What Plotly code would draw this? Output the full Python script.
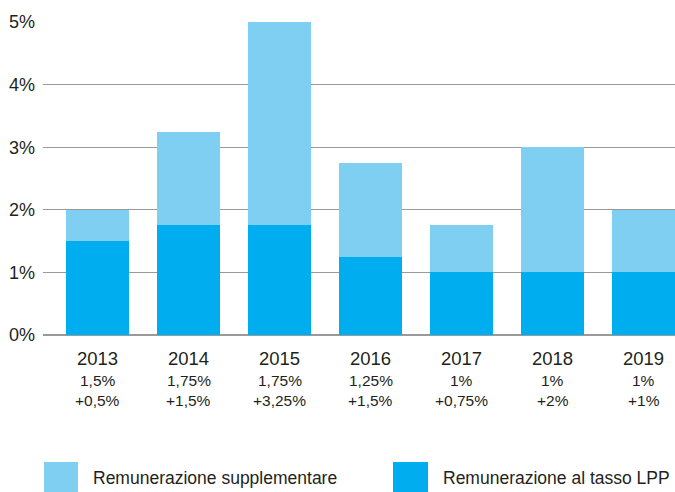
import plotly.graph_objects as go

years = ["2013", "2014", "2015", "2016", "2017", "2018", "2019"]
base_rate = [1.5, 1.75, 1.75, 1.25, 1.0, 1.0, 1.0]
extra_rate = [0.5, 1.5, 3.25, 1.5, 0.75, 2.0, 1.0]
base_labels = ["1,5%", "1,75%", "1,75%", "1,25%", "1%", "1%", "1%"]
extra_labels = ["+0,5%", "+1,5%", "+3,25%", "+1,5%", "+0,75%", "+2%", "+1%"]
y_ticks = [0, 1, 2, 3, 4, 5]
y_ticktext = ["0%", "1%", "2%", "3%", "4%", "5%"]
legend_names = ["Remunerazione supplementare", "Remunerazione al tasso LPP"]

dark = "#00AEEF"
light = "#7FCFF3"
FONT = "Liberation Sans Narrow, Arial Narrow, Liberation Sans, sans-serif"
TXT = "#231F20"

W, H = 675, 492
L, T, B = 43, 22, 157
PH = H - T - B  # plot height in px


def py(pix):
    """pixel row -> paper y"""
    return (H - B - pix) / PH


def px(pix):
    return (pix - L) / (W - L)


fig = go.Figure()
fig.add_trace(go.Bar(x=years, y=base_rate, marker=dict(color=dark, line=dict(width=0)),
                     name=legend_names[1], showlegend=False))
fig.add_trace(go.Bar(x=years, y=extra_rate, marker=dict(color=light, line=dict(width=0)),
                     name=legend_names[0], showlegend=False))

annotations = []
for i, yr in enumerate(years):
    annotations.append(dict(x=i, y=py(358), xref="x", yref="paper", text=yr, showarrow=False,
                            font=dict(size=18.5, color=TXT, family=FONT), yanchor="middle"))
    annotations.append(dict(x=i, y=py(380), xref="x", yref="paper", text=base_labels[i], showarrow=False,
                            font=dict(size=15.5, color=TXT, family=FONT), yanchor="middle"))
    annotations.append(dict(x=i, y=py(400), xref="x", yref="paper", text=extra_labels[i], showarrow=False,
                            font=dict(size=15.5, color=TXT, family=FONT), yanchor="middle"))

shapes = []
legend_items = [(44, 78, 91, light, legend_names[0]), (393, 428, 441, dark, legend_names[1])]
for x0, x1, tx, col, name in legend_items:
    shapes.append(dict(type="rect", xref="paper", yref="paper",
                       x0=px(x0), x1=px(x1), y0=py(462), y1=py(492),
                       fillcolor=col, line=dict(width=0), layer="above"))
    annotations.append(dict(x=px(tx), y=py(478), xref="paper", yref="paper",
                            text=name, showarrow=False, xanchor="left", yanchor="middle",
                            font=dict(size=17.5, color=TXT, family=FONT)))

fig.update_layout(
    barmode="stack",
    bargap=0.31,
    width=W, height=H,
    margin=dict(l=L, r=0, t=T, b=B),
    paper_bgcolor="white", plot_bgcolor="white",
    xaxis=dict(type="category", showticklabels=False, showgrid=False, zeroline=False, showline=False,
               range=[-0.599, 6.346], ticks=""),
    yaxis=dict(range=[0, 5], tickvals=y_ticks, ticktext=y_ticktext, showgrid=True,
               gridcolor="#9A9A9A", gridwidth=1, zeroline=True, zerolinecolor="#9A9A9A",
               zerolinewidth=1.5, showline=False, ticks="", ticklabelstandoff=7,
               tickfont=dict(size=18, color=TXT, family=FONT)),
    annotations=annotations,
    shapes=shapes,
    showlegend=False,
)

fig.write_html("out.html", config={"displayModeBar": False},
               post_script="document.body.style.margin='0';document.body.style.overflow='hidden';")
